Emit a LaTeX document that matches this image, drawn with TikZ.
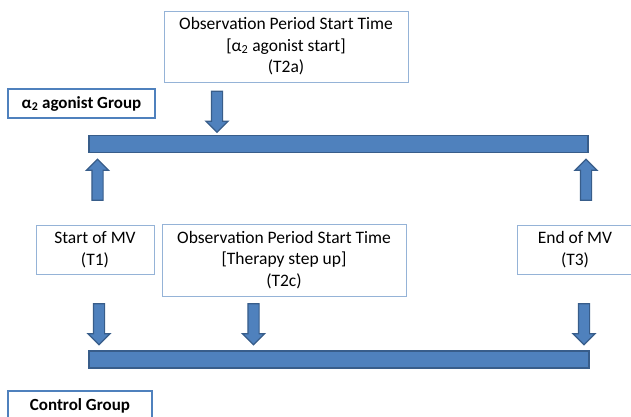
\documentclass[tikz,border=0pt]{standalone}
\usepackage{fontspec}
\setmainfont{Carlito}
\usetikzlibrary{shapes.arrows}
\definecolor{barblue}{HTML}{4F81BD}
\definecolor{bardark}{HTML}{385D8A}
\definecolor{boxline}{HTML}{95B3D7}
\tikzset{
    TB/.style ={rectangle, draw=boxline, line width=0.9pt, align=center, inner sep=0pt,
                font=\fontsize{17.5}{21.5}\selectfont},
    GB/.style ={rectangle, draw=barblue, line width=1.6pt, align=center, inner sep=0pt,
                font=\fontsize{17}{21}\selectfont\bfseries},
    BAR/.style ={rectangle, fill=barblue, draw=bardark, line width=1.2pt, minimum height=17pt},
    BA/.style ={single arrow, fill=barblue, draw=bardark, line width=1.2pt, inner sep=5pt,
                single arrow head extend=5.5pt, minimum height=41pt}
}
\begin{document}
\begin{tikzpicture}[x=1pt,y=-1pt]
        \useasboundingbox (0,0) rectangle (631,416);
        % alpha2 agonist group
        \node[TB, minimum width=244pt, minimum height=71pt] (t2a) at (286,46.5)
            {Observation Period Start Time\\{}[α\textsubscript{2} agonist start]\\(T2a)};
        \node[GB, minimum width=147pt, minimum height=29pt] (agroup) at (81.5,103.5)
            {α\textsubscript{2} agonist Group};
        \node[BA, rotate=-90] (a2a) at (217,109) {};
        \node[BAR, minimum width=499pt] (topbar) at (338.5,144) {};
        \node[BA, rotate=90] (a1up) at (97.5,182.5) {};
        \node[BA, rotate=90] (a3up) at (586,182.5) {};
        % time points
        \node[TB, minimum width=118pt, minimum height=49pt] (t1) at (95,249.5)
            {Start of MV\\(T1)};
        \node[TB, minimum width=244pt, minimum height=72pt] (t2c) at (284,260)
            {Observation Period Start Time\\{}[Therapy step up]\\(T2c)};
        \node[TB, minimum width=116pt, minimum height=49pt] (t3) at (575,249.5)
            {End of MV\\(T3)};
        % control group
        \node[BA, rotate=-90] (a1dn) at (99,321.5) {};
        \node[BA, rotate=-90] (a2dn) at (253.5,321.5) {};
        \node[BA, rotate=-90] (a3dn) at (584,321.5) {};
        \node[BAR, minimum width=500pt] (botbar) at (339,359.5) {};
        \node[GB, minimum width=144pt, minimum height=29pt] (cgroup) at (80,405.5)
            {Control Group};
    \end{tikzpicture}
\end{document}
